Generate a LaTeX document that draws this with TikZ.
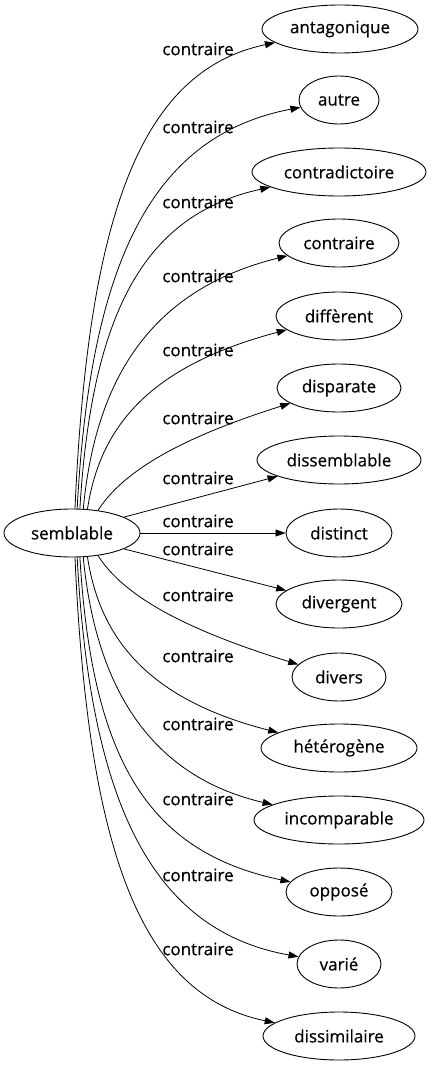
\documentclass[tikz,border=0pt]{standalone}
\usepackage{fontspec}
\setmainfont{Open Sans}[FakeBold=0.5]
\usetikzlibrary{shapes.geometric,arrows.meta}

\begin{document}
\begin{tikzpicture}[x=1pt,y=-1pt]
\tikzstyle{every node}+=[inner sep=0pt, font=\fontsize{17}{20}\selectfont]
\tikzstyle{word}=[draw=black, ellipse, line width=0.9pt, minimum height=48pt]
\tikzstyle{link}=[line width=0.8pt, -{Triangle[length=10pt,width=7pt]}]
\useasboundingbox (0,0) rectangle (431,1067);
\node [word, minimum width=136pt] (semblable) at (72,533) {semblable};
\node [word, minimum width=156pt] (antagonique) at (340,29) {antagonique};
\node [word, minimum width=80pt] (autre) at (339,100) {autre};
\node [word, minimum width=174pt] (contradictoire) at (339,172) {contradictoire};
\node [word, minimum width=120pt] (contraire) at (339,243) {contraire};
\node [word, minimum width=126pt] (different) at (339,316) {diffèrent};
\node [word, minimum width=124pt] (disparate) at (339,388) {disparate};
\node [word, minimum width=164pt] (dissemblable) at (339,460) {dissemblable};
\node [word, minimum width=106pt] (distinct) at (339,533) {distinct};
\node [word, minimum width=126pt] (divergent) at (339,604) {divergent};
\node [word, minimum width=94pt] (divers) at (339,677) {divers};
\node [word, minimum width=156pt] (heterogene) at (339,748) {hétérogène};
\node [word, minimum width=170pt] (incomparable) at (339,820) {incomparable};
\node [word, minimum width=106pt] (oppose) at (339,892) {opposé};
\node [word, minimum width=84pt] (varie) at (339,964) {varié};
\node [word, minimum width=152pt] (dissimilaire) at (339,1036) {dissimilaire};
\draw [link] (semblable.83) .. controls (88,216) and (140,71) .. (antagonique);
\draw [link] (semblable.78) .. controls (90,266) and (150,136) .. (autre);
\draw [link] (semblable.72) .. controls (92,306) and (148,214) .. (contradictoire);
\draw [link] (semblable.65) .. controls (95,386) and (145,291) .. (contraire);
\draw [link] (semblable.57) .. controls (100,426) and (150,366) .. (different);
\draw [link] (semblable.41) .. controls (120,476) and (170,441) .. (disparate);
\draw [link] (semblable.17) -- (dissemblable);
\draw [link] (semblable) -- (distinct);
\draw [link] (semblable.-17) -- (divergent);
\draw [link] (semblable.-41) .. controls (120,590) and (170,625) .. (divers);
\draw [link] (semblable.-57) .. controls (100,640) and (150,700) .. (heterogene);
\draw [link] (semblable.-65) .. controls (95,680) and (145,775) .. (incomparable);
\draw [link] (semblable.-72) .. controls (92,760) and (148,852) .. (oppose);
\draw [link] (semblable.-78) .. controls (90,800) and (150,930) .. (varie);
\draw [link] (semblable.-83) .. controls (88,850) and (140,995) .. (dissimilaire);
\node (l1) at (198,49) {contraire};
\node (l2) at (198,127) {contraire};
\node (l3) at (198,202) {contraire};
\node (l4) at (198,276) {contraire};
\node (l5) at (198,350) {contraire};
\node (l6) at (198,418) {contraire};
\node (l7) at (198,478) {contraire};
\node (l8) at (198,521) {contraire};
\node (l9) at (198,549) {contraire};
\node (l10) at (198,595) {contraire};
\node (l11) at (198,656) {contraire};
\node (l12) at (198,724) {contraire};
\node (l13) at (198,799) {contraire};
\node (l14) at (198,875) {contraire};
\node (l15) at (198,949) {contraire};
\end{tikzpicture}
\end{document}
